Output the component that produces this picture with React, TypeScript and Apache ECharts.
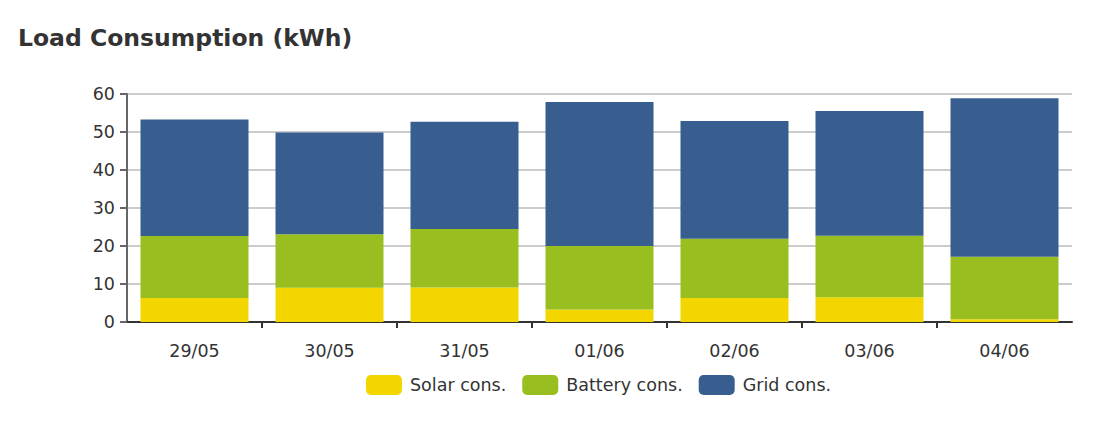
import React, { useEffect, useRef } from "react";
import * as echarts from "echarts";

const days = ["29/05", "30/05", "31/05", "01/06", "02/06", "03/06", "04/06"];
const solarCons = [6.3, 9.0, 9.1, 3.3, 6.3, 6.5, 0.7];
const batteryCons = [16.3, 14.1, 15.4, 16.7, 15.6, 16.2, 16.5];
const gridCons = [30.7, 26.8, 28.2, 37.9, 31.0, 32.8, 41.7];

const FONT = "'DejaVu Sans', sans-serif";
const LABEL_SIZE = 17.5;

export default function App() {
  const ref = useRef<HTMLDivElement>(null);

  useEffect(() => {
    if (!ref.current) return;
    const chart = echarts.init(ref.current, null, { renderer: "svg" });
    const bar = (name: string, data: number[], color: string) => ({
      name,
      type: "bar",
      stack: "load",
      xAxisIndex: 0,
      data,
      barCategoryGap: "20%",
      itemStyle: { color },
      emphasis: { disabled: true },
    });
    // boundaries between day bands, used only for the interior tick marks
    const boundaries = days.concat([""]).map((_, i) => String(i));
    chart.setOption({
      animation: false,
      title: {
        text: "Load Consumption (kWh)",
        left: 13,
        top: 21,
        textStyle: { fontFamily: FONT, fontSize: 23.5, fontWeight: "bold", color: "#333" },
      },
      legend: {
        left: 366,
        top: 375,
        padding: 0,
        itemWidth: 36,
        itemHeight: 20,
        itemGap: 16,
        icon: "roundRect",
        textStyle: { fontFamily: FONT, fontSize: LABEL_SIZE, color: "#333", padding: [0, 0, 0, 3] },
        data: ["Solar cons.", "Battery cons.", "Grid cons."],
      },
      grid: { left: 127, right: 45, top: 94, bottom: 99, containLabel: false },
      xAxis: [
        {
          type: "category",
          data: days,
          axisLine: { lineStyle: { color: "#333", width: 2 } },
          axisTick: { show: false },
          axisLabel: { fontFamily: FONT, fontSize: LABEL_SIZE, color: "#333", margin: 20 },
        },
        {
          type: "category",
          position: "bottom",
          data: boundaries,
          boundaryGap: false,
          axisLine: { show: false },
          axisLabel: { show: false },
          splitLine: { show: false },
          axisTick: {
            show: true,
            length: 6,
            interval: (i: number) => i > 0 && i < days.length,
            lineStyle: { color: "#333", width: 2 },
          },
        },
      ],
      yAxis: {
        type: "value",
        min: 0,
        max: 60,
        interval: 10,
        axisLine: { show: true, lineStyle: { color: "#666", width: 2 } },
        axisTick: { show: true, length: 7, lineStyle: { color: "#666", width: 2 } },
        axisLabel: { fontFamily: FONT, fontSize: LABEL_SIZE, color: "#333", margin: 12 },
        splitLine: { show: true, lineStyle: { color: "#ccc", width: 2 } },
      },
      series: [
        bar("Solar cons.", solarCons, "#f3d600"),
        bar("Battery cons.", batteryCons, "#98bf1f"),
        bar("Grid cons.", gridCons, "#375e8e"),
      ],
    });
    return () => chart.dispose();
  }, []);

  return (
    <div
      ref={ref}
      style={{ position: "absolute", left: 0, top: 0, width: 1117, height: 421, background: "#fff" }}
    />
  );
}
